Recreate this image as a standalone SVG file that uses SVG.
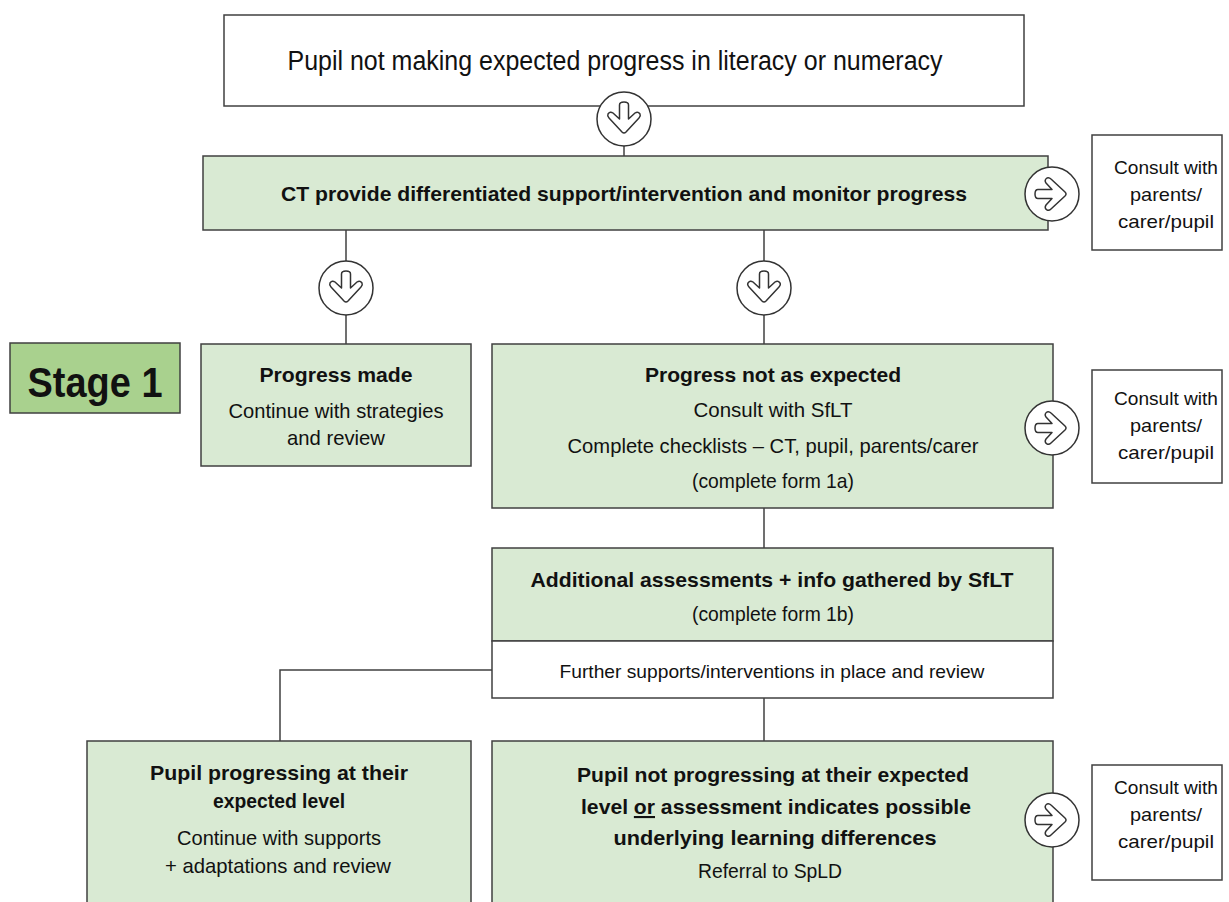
<svg xmlns="http://www.w3.org/2000/svg" width="1229" height="902" viewBox="0 0 1229 902">
<defs>
<style>
.box{stroke:#404040;stroke-width:1.5}
.w{fill:#ffffff}
.g{fill:#d9ead3}
.s{fill:#a9d18e}
.t{font-family:"Liberation Sans Narrow","Liberation Sans",Arial,sans-serif;fill:#111;text-anchor:middle}
.b{font-weight:bold}
.con{stroke:#404040;stroke-width:1.5;fill:none}
.circ{fill:#fff;stroke:#333;stroke-width:1.5}
.arr{fill:#fff;stroke:#333;stroke-width:1.5;stroke-linejoin:round}
</style>
<g id="darr"><circle class="circ" r="27"/><path class="arr" d="M -4.5,-14 Q -4.5,-17 0,-17 Q 4.5,-17 4.5,-14 L 4.5,0 L 11,-6 Q 14,-8 16,-5 Q 17,-3 15,-1 L 2,13 Q 0,15 -2,13 L -15,-1 Q -17,-3 -16,-5 Q -14,-8 -11,-6 L -4.5,0 Z"/></g>
<g id="rarr"><circle class="circ" r="27"/><path class="arr" transform="rotate(-90)" d="M -4.5,-14 Q -4.5,-17 0,-17 Q 4.5,-17 4.5,-14 L 4.5,0 L 11,-6 Q 14,-8 16,-5 Q 17,-3 15,-1 L 2,13 Q 0,15 -2,13 L -15,-1 Q -17,-3 -16,-5 Q -14,-8 -11,-6 L -4.5,0 Z"/></g>
</defs>
<rect width="1229" height="902" fill="#fff"/>

<g id="connectors">
<line class="con" x1="624" y1="106" x2="624" y2="156"/>
<line class="con" x1="346" y1="230" x2="346" y2="344"/>
<line class="con" x1="764" y1="230" x2="764" y2="344"/>
<line class="con" x1="764" y1="508" x2="764" y2="548"/>
<polyline class="con" points="492,670 280,670 280,741"/>
<line class="con" x1="764" y1="698" x2="764" y2="741"/>
</g>

<g id="top">
<rect class="box w" x="224" y="15" width="800" height="91"/>
<text class="t" x="615" y="70" font-size="27" textLength="655" lengthAdjust="spacingAndGlyphs">Pupil not making expected progress in literacy or numeracy</text>
</g>

<g id="ct">
<rect class="box g" x="203" y="156" width="845" height="74"/>
<text class="t b" x="624" y="201" font-size="21" textLength="686" lengthAdjust="spacingAndGlyphs">CT provide differentiated support/intervention and monitor progress</text>
</g>

<g id="consult1">
<rect class="box w" x="1092" y="135" width="130" height="115"/>
<text class="t" x="1166" y="174" font-size="19" textLength="104" lengthAdjust="spacingAndGlyphs">Consult with</text>
<text class="t" x="1166" y="201" font-size="19" textLength="72" lengthAdjust="spacingAndGlyphs">parents/</text>
<text class="t" x="1166" y="228" font-size="19" textLength="96" lengthAdjust="spacingAndGlyphs">carer/pupil</text>
</g>

<g id="stage1">
<rect class="box s" x="10" y="343" width="170" height="70"/>
<text class="t b" x="95" y="397" font-size="42" textLength="135" lengthAdjust="spacingAndGlyphs">Stage 1</text>
</g>

<g id="made">
<rect class="box g" x="201" y="344" width="270" height="122"/>
<text class="t b" x="336" y="382" font-size="21" textLength="153" lengthAdjust="spacingAndGlyphs">Progress made</text>
<text class="t" x="336" y="418" font-size="21" textLength="215" lengthAdjust="spacingAndGlyphs">Continue with strategies</text>
<text class="t" x="336" y="445" font-size="21" textLength="98" lengthAdjust="spacingAndGlyphs">and review</text>
</g>

<g id="notexpected">
<rect class="box g" x="492" y="344" width="561" height="164"/>
<text class="t b" x="773" y="382" font-size="21" textLength="256" lengthAdjust="spacingAndGlyphs">Progress not as expected</text>
<text class="t" x="773" y="417" font-size="21" textLength="159" lengthAdjust="spacingAndGlyphs">Consult with SfLT</text>
<text class="t" x="773" y="453" font-size="21" textLength="411" lengthAdjust="spacingAndGlyphs">Complete checklists – CT, pupil, parents/carer</text>
<text class="t" x="773" y="488" font-size="21" textLength="162" lengthAdjust="spacingAndGlyphs">(complete form 1a)</text>
</g>

<g id="consult2">
<rect class="box w" x="1092" y="370" width="130" height="113"/>
<text class="t" x="1166" y="405" font-size="19" textLength="104" lengthAdjust="spacingAndGlyphs">Consult with</text>
<text class="t" x="1166" y="432" font-size="19" textLength="72" lengthAdjust="spacingAndGlyphs">parents/</text>
<text class="t" x="1166" y="459" font-size="19" textLength="96" lengthAdjust="spacingAndGlyphs">carer/pupil</text>
</g>

<g id="additional">
<rect class="box g" x="492" y="548" width="561" height="93"/>
<rect class="box w" x="492" y="641" width="561" height="57"/>
<text class="t b" x="772" y="587" font-size="21" textLength="483" lengthAdjust="spacingAndGlyphs">Additional assessments + info gathered by SfLT</text>
<text class="t" x="773" y="621" font-size="21" textLength="162" lengthAdjust="spacingAndGlyphs">(complete form 1b)</text>
<text class="t" x="772" y="678" font-size="19" textLength="425" lengthAdjust="spacingAndGlyphs">Further supports/interventions in place and review</text>
</g>

<g id="progressing">
<rect class="box g" x="87" y="741" width="384" height="165"/>
<text class="t b" x="279" y="780" font-size="21" textLength="258" lengthAdjust="spacingAndGlyphs">Pupil progressing at their</text>
<text class="t b" x="279" y="808" font-size="21" textLength="132" lengthAdjust="spacingAndGlyphs">expected level</text>
<text class="t" x="279" y="845" font-size="21" textLength="204" lengthAdjust="spacingAndGlyphs">Continue with supports</text>
<text class="t" x="278" y="873" font-size="21" textLength="226" lengthAdjust="spacingAndGlyphs">+ adaptations and review</text>
</g>

<g id="notprogressing">
<rect class="box g" x="492" y="741" width="561" height="165"/>
<text class="t b" x="773" y="782" font-size="21" textLength="392" lengthAdjust="spacingAndGlyphs">Pupil not progressing at their expected</text>
<text class="t b" x="776" y="814" font-size="21" textLength="390" lengthAdjust="spacingAndGlyphs">level <tspan text-decoration="underline">or</tspan> assessment indicates possible</text>
<text class="t b" x="775" y="845" font-size="21" textLength="323" lengthAdjust="spacingAndGlyphs">underlying learning differences</text>
<text class="t" x="770" y="878" font-size="21" textLength="144" lengthAdjust="spacingAndGlyphs">Referral to SpLD</text>
</g>

<g id="consult3">
<rect class="box w" x="1092" y="765" width="130" height="115"/>
<text class="t" x="1166" y="794" font-size="19" textLength="104" lengthAdjust="spacingAndGlyphs">Consult with</text>
<text class="t" x="1166" y="821" font-size="19" textLength="72" lengthAdjust="spacingAndGlyphs">parents/</text>
<text class="t" x="1166" y="848" font-size="19" textLength="96" lengthAdjust="spacingAndGlyphs">carer/pupil</text>
</g>

<g id="arrows">
<use href="#darr" x="624" y="119"/>
<use href="#darr" x="346" y="288"/>
<use href="#darr" x="764" y="288"/>
<use href="#rarr" x="1052" y="194"/>
<use href="#rarr" x="1052" y="428"/>
<use href="#rarr" x="1052" y="820"/>
</g>
</svg>
